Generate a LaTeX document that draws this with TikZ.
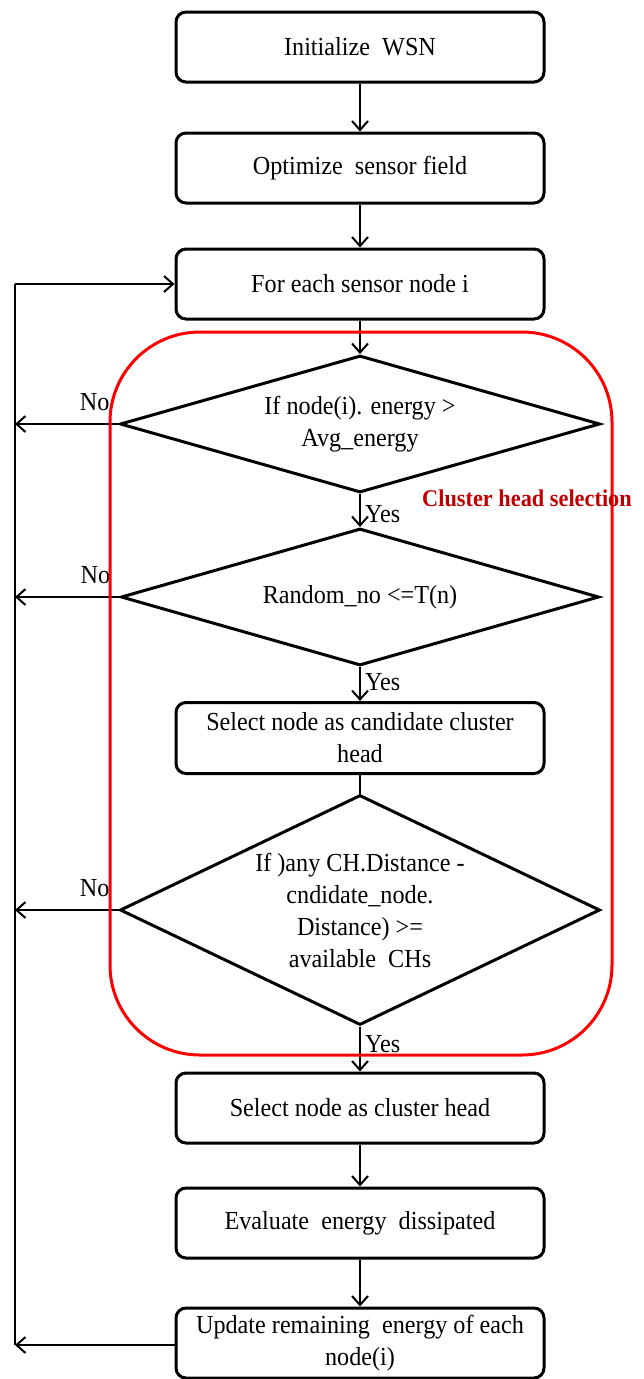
\documentclass[tikz,border=0pt]{standalone}
\usepackage{fontspec}
\setmainfont{Liberation Serif}[FakeStretch=0.93]
\usetikzlibrary{shapes.geometric,arrows.meta}
\definecolor{chsel}{RGB}{192,0,0}
\begin{document}
\begin{tikzpicture}[x=1pt,y=-1pt,
  every node/.style={font=\fontsize{26}{32}\selectfont},
  box/.style={draw,line width=3pt,rounded corners=10pt,minimum width=368pt,minimum height=70pt,align=center,inner sep=0pt},
  dia/.style={draw,diamond,line width=3pt,inner sep=0pt},
  diatext/.style={align=center,inner sep=0pt},
  arr/.style={line width=2pt,-{Straight Barb[length=9pt,width=16pt,line width=2pt]}},
  ln/.style={line width=2pt},
  nolbl/.style={inner sep=0pt,above,yshift=12pt}]
\useasboundingbox (0,0) rectangle (643,1379);

\node[box] (b1) at (360,47) {Initialize~ WSN};
\node[box] (b2) at (360,168) {Optimize~ sensor field};
\node[box] (b3) at (360,284) {For each sensor node i};
\node[dia,minimum width=480pt,minimum height=137pt,
  label={[diatext]center:If node(i). energy >\\Avg\_energy}] (d1) at (360,424) {};
\node[dia,minimum width=478pt,minimum height=137pt,
  label={[diatext]center:Random\_no <=T(n)}] (d2) at (360,597) {};
\node[box,minimum height=71pt] (b4) at (360,738) {Select node as candidate cluster\\head};
\node[dia,minimum width=480pt,minimum height=230pt,
  label={[diatext]center:If )any CH.Distance -\\cndidate\_node.\\Distance) >=\\available~ CHs}] (d3) at (360,910) {};
\node[box] (b5) at (360,1108) {Select node as cluster head};
\node[box] (b6) at (360,1223) {Evaluate~ energy~ dissipated};
\node[box] (b7) at (360,1343) {Update remaining~ energy of each\\node(i)};

\coordinate (Ltop) at (15,284);
\coordinate (Lbot) at (15,1345);

\draw[arr] (b1) -- (b2);
\draw[arr] (b2) -- (b3);
\draw[arr] (b3) -- (d1);
\draw[arr] (d1) -- node[right,pos=0.62,inner sep=4pt]{Yes} (d2);
\draw[arr] (d2) -- node[right,pos=0.45,inner sep=4pt]{Yes} (b4);
\draw[ln] (b4) -- (d3);
\draw[arr] (d3) -- node[right,pos=0.38,inner sep=4pt]{Yes} (b5);
\draw[arr] (b5) -- (b6);
\draw[arr] (b6) -- (b7);

\draw[arr] (d1.west) -- node[nolbl,pos=0.23]{No} (d1.west -| Ltop);
\draw[arr] (d2.west) -- node[nolbl,pos=0.23]{No} (d2.west -| Ltop);
\draw[arr] (d3.west) -- node[nolbl,pos=0.23]{No} (d3.west -| Ltop);

\draw[arr] (b7.west |- Lbot) -- (Lbot);
\draw[ln] (Lbot) -- (Ltop);
\draw[arr] (Ltop) -- (b3.west);

\draw[red,line width=3pt,rounded corners=90pt] (110,332) rectangle (612,1055);
\node[text=chsel,font=\fontsize{24}{30}\selectfont\bfseries,inner sep=0pt] (chs) at (527,498) {Cluster head selection};
\end{tikzpicture}
\end{document}
